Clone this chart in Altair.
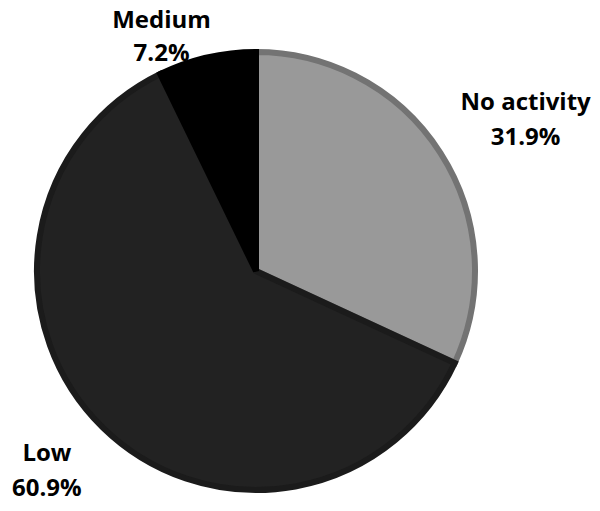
import altair as alt
import pandas as pd

categories = ["No activity", "Low", "Medium"]
values = [31.9, 60.9, 7.2]
fills = ["#999999", "#222222", "#000000"]
strokes = ["#737373", "#1b1b1b", "#000000"]

df = pd.DataFrame({
    "cat": categories,
    "val": values,
    "order": list(range(len(categories))),
})
df["pct"] = [f"{v}%" for v in values]

theta_scale = alt.Scale(domain=[0, 100])
CX, CY = 248, 263
LINE = 35

pie = alt.Chart(df).mark_arc(outerRadius=219, strokeWidth=6).encode(
    theta=alt.Theta("val:Q", stack=True, scale=theta_scale),
    order=alt.Order("order:Q"),
    x=alt.value(CX),
    y=alt.value(CY),
    color=alt.Color("cat:N", scale=alt.Scale(domain=categories, range=fills), legend=None),
    stroke=alt.Stroke("cat:N", scale=alt.Scale(domain=categories, range=strokes), legend=None),
)

txt_base = alt.Chart(df).transform_window(
    cum="sum(val)", sort=[alt.SortField("order")]
).transform_calculate(mid="datum.cum - datum.val / 2")

txt_style = dict(font="Open Sans", fontSize=24, fontWeight="bold", color="#000000",
                 align="center", baseline="middle")


def label_layers(name, r, ox, oy, line=LINE):
    layers = []
    for field, off in (("cat", 0), ("pct", line)):
        layers.append(
            txt_base.transform_filter(alt.datum.cat == name).mark_text(
                radius=r, dx=ox, dy=oy + off, **txt_style
            ).encode(
                theta=alt.Theta("mid:Q", stack=None, scale=theta_scale),
                x=alt.value(CX),
                y=alt.value(CY),
                text=f"{field}:N",
            )
        )
    return layers


chart = alt.layer(
    pie,
    *label_layers("No activity", 320, 0, 4),
    *label_layers("Low", 280, -13, -17),
    *label_layers("Medium", 274, -33, 17, 33),
).properties(
    width=584, height=495, autosize=alt.AutoSizeParams(type="none"), padding=0
).configure_view(stroke=None)

chart.save("out.html", embed_options={"renderer": "svg", "actions": False})
